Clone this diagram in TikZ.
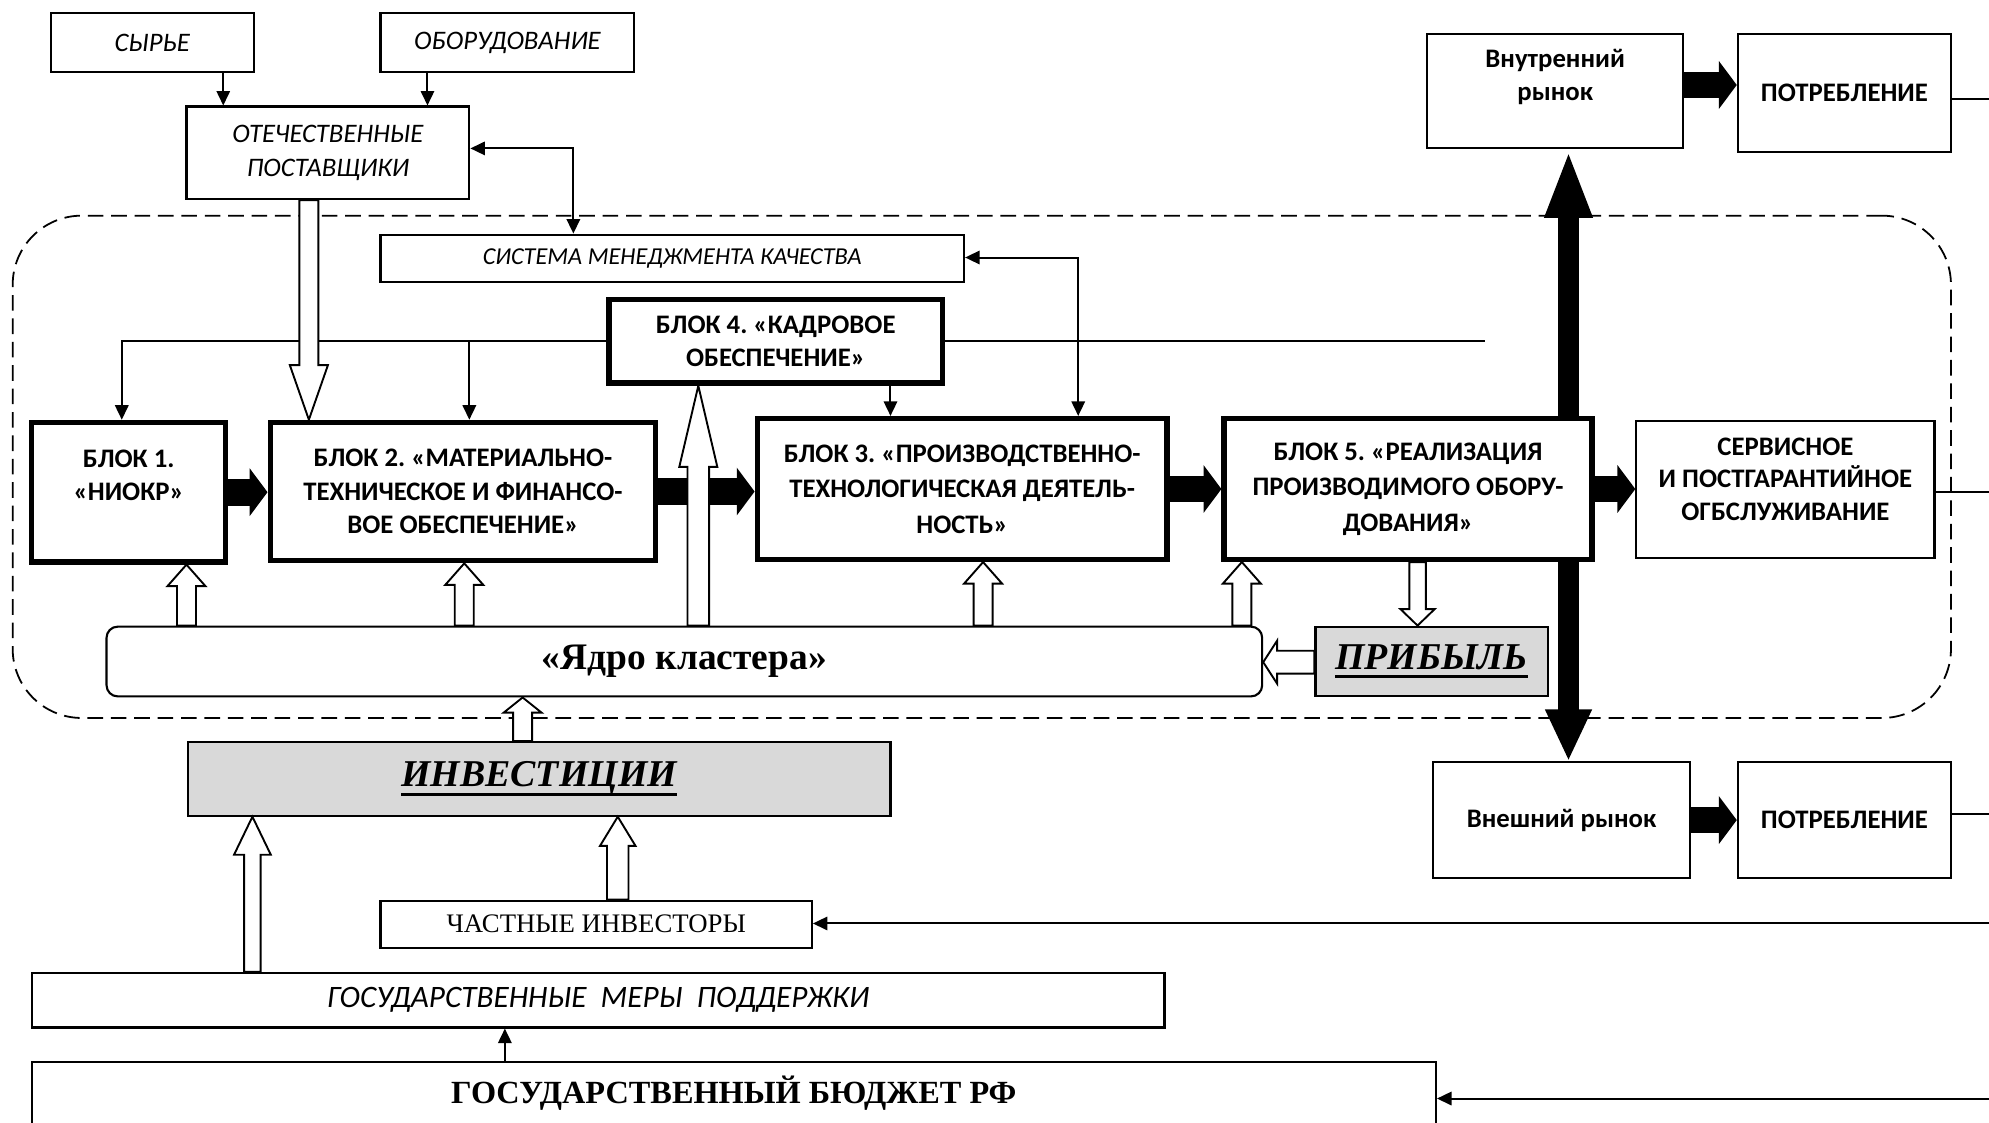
\documentclass[tikz,border=0pt]{standalone}
\usepackage{fontspec}
\setmainfont{Liberation Serif}
\newfontfamily\calib{Carlito}
\usetikzlibrary{arrows.meta,calc}
\definecolor{pgray}{HTML}{D9D9D9}
\frenchspacing
\newcommand\thul[1]{\setbox0\hbox{#1}\rlap{\rule[-4pt]{\wd0}{1.4pt}}\box0}
\newcommand\pbox[7]{\node[#6,minimum width={(#4-#2)*0.02cm},minimum height={(#5-#3)*0.02cm}] (#1) at ({(#2+#4)/2},{(#3+#5)/2}) {#7};}
\newcommand\hollowv[5]{\draw[hollow] ($(#1)+(-#3,0)$) -- ($(#2)+(-#3,#5)$) -- ($(#2)+(-#4,#5)$) -- (#2) -- ($(#2)+(#4,#5)$) -- ($(#2)+(#3,#5)$) -- ($(#1)+(#3,0)$) -- cycle;}
\newcommand\hollowh[5]{\draw[hollow] ($(#1)+(0,-#3)$) -- ($(#2)+(#5,-#3)$) -- ($(#2)+(#5,-#4)$) -- (#2) -- ($(#2)+(#5,#4)$) -- ($(#2)+(#5,#3)$) -- ($(#1)+(0,#3)$) -- cycle;}
\tikzset{
 tbox/.style={draw, line width=0.95pt, fill=white, inner sep=0pt, align=center},
 kbox/.style={draw, line width=2.4pt, fill=white, inner sep=0pt, align=center, font=\calib\bfseries\fontsize{12}{16}\selectfont},
 ital/.style={font=\calib\itshape\fontsize{12}{15}\selectfont},
 boldsans/.style={font=\calib\bfseries\fontsize{12}{15}\selectfont},
 graybox/.style={tbox, fill=pgray, font=\bfseries\itshape\fontsize{17}{20}\selectfont},
 conn/.style={line width=0.9pt, -{Triangle[length=6.5pt,width=6pt]}},
 conn2/.style={line width=0.9pt, {Triangle[length=6.5pt,width=6pt]}-{Triangle[length=6.5pt,width=6pt]}},
 plain/.style={line width=0.9pt},
 blk/.style={line width=12pt, -{Triangle[length=8pt,width=21pt]}},
 bigarrow/.style={line width=9.7pt, {Triangle[length=30.7pt,width=19.3pt]}-{Triangle[length=23.3pt,width=19.3pt]}},
 hollow/.style={draw, line width=0.85pt, fill=white, line join=miter},
 cluster/.style={draw, line width=0.8pt, dash pattern=on 7pt off 3.5pt, rounded corners=31pt, inner sep=0pt},
}
\begin{document}
\begin{tikzpicture}[x=0.02cm,y=-0.02cm]
\clip (0,0) rectangle (1568,885);
\fill[white] (0,0) rectangle (1568,885);
% cluster border
\pbox{clu}{10}{170}{1538}{566}{cluster}{}
% named x / y positions
\coordinate (c1) at (452,117);
\coordinate (c2) at (850,203);
\coordinate (c3) at (96,0);
\coordinate (c4) at (370,0);
\coordinate (c5) at (702,0);
\coordinate (c6) at (1171,0);
\coordinate (c7) at (176,0);
\coordinate (c8) at (337,0);
\coordinate (c9) at (398,0);
\coordinate (cx) at (1236.5,0);
\coordinate (ya) at (0,67);
\coordinate (r1) at (1580,78);
\coordinate (r2) at (1580,388);
\coordinate (r3) at (1580,642);
\coordinate (r4) at (1580,728);
\coordinate (r5) at (1580,866);
\coordinate (h0) at (243.5,0);
\coordinate (h1) at (147,0);
\coordinate (h2) at (366,0);
\coordinate (h3) at (775,0);
\coordinate (h4) at (979,0);
\coordinate (h5) at (550.5,0);
\coordinate (h6) at (1117.5,0);
\coordinate (h7) at (412,0);
\coordinate (h8) at (199,0);
\coordinate (h9) at (487,0);
\coordinate (hy) at (0,522);
% boxes at top right (needed for the big arrow)
\pbox{vnutr}{1125}{27}{1327}{117}{tbox,boldsans}{Внутренний\\рынок\\\mbox{}}
\pbox{vnesh}{1130}{601}{1332}{692}{tbox,boldsans}{Внешний рынок}
\draw[bigarrow] (vnutr.south -| cx) -- (vnesh.north -| cx);
% boxes
\pbox{syr}{40}{10}{200}{57}{tbox,ital}{СЫРЬЕ}
\pbox{obor}{300}{10}{500}{57}{tbox,ital}{ОБОРУДОВАНИЕ}
\pbox{otech}{147}{84}{370}{157}{tbox,ital}{ОТЕЧЕСТВЕННЫЕ\\ПОСТАВЩИКИ}
\pbox{smk}{300}{185}{760}{222}{tbox,font=\calib\itshape\fontsize{10.9}{12}\selectfont}{СИСТЕМА МЕНЕДЖМЕНТА КАЧЕСТВА}
\pbox{b4}{480}{236}{743}{302}{kbox,font=\calib\bfseries\fontsize{12}{15}\selectfont}{БЛОК 4. «КАДРОВОЕ\\ОБЕСПЕЧЕНИЕ»}
\pbox{b1}{25}{333}{178}{443}{kbox,font=\calib\bfseries\fontsize{12}{15}\selectfont}{БЛОК 1.\\«НИОКР»\\\mbox{}}
\pbox{b2}{213}{333}{517}{442}{kbox,font=\calib\bfseries\fontsize{12}{15}\selectfont}{БЛОК 2. «МАТЕРИАЛЬНО-\\ТЕХНИЧЕСКОЕ И ФИНАНСО-\\ВОЕ ОБЕСПЕЧЕНИЕ»}
\pbox{b3}{597}{330}{920}{441}{kbox}{БЛОК 3. «ПРОИЗВОДСТВЕННО-\\ТЕХНОЛОГИЧЕСКАЯ ДЕЯТЕЛЬ-\\НОСТЬ»}
\pbox{b5}{965}{330}{1255}{441}{kbox}{БЛОК 5. «РЕАЛИЗАЦИЯ\\ПРОИЗВОДИМОГО ОБОРУ-\\ДОВАНИЯ»}
\pbox{serv}{1290}{332}{1525}{440}{tbox,font=\calib\bfseries\fontsize{12}{14.5}\selectfont}{СЕРВИСНОЕ\\И ПОСТГАРАНТИЙНОЕ\\ОГБСЛУЖИВАНИЕ\\[-5pt]\mbox{}}
\pbox{potr1}{1370}{27}{1538}{120}{tbox,boldsans}{ПОТРЕБЛЕНИЕ}
\pbox{potr2}{1370}{601}{1538}{692}{tbox,boldsans}{ПОТРЕБЛЕНИЕ}
\pbox{yadro}{84}{494}{995}{549}{tbox,rounded corners=5pt,font=\bfseries\fontsize{16.8}{18}\selectfont}{«Ядро кластера»}
\pbox{prib}{1037}{494}{1220}{549}{graybox}{\thul{ПРИБЫЛЬ}}
\pbox{invest}{148}{585}{702}{643}{graybox}{\thul{ИНВЕСТИЦИИ}}
\pbox{chast}{300}{710}{640}{747}{tbox,font=\fontsize{12}{13}\selectfont}{ЧАСТНЫЕ ИНВЕСТОРЫ}
\pbox{gosm}{25}{767}{918}{810}{tbox,font=\calib\itshape\fontsize{14}{16}\selectfont}{ГОСУДАРСТВЕННЫЕ\ \ МЕРЫ\ \ ПОДДЕРЖКИ}
\pbox{budget}{25}{837}{1132}{887}{tbox,font=\bfseries\fontsize{14.5}{16}\selectfont}{ГОСУДАРСТВЕННЫЙ БЮДЖЕТ РФ}
% thin connectors
\draw[conn] (syr.south -| c7) -- (c7 |- otech.north);
\draw[conn] (obor.south -| c8) -- (c8 |- otech.north);
\draw[conn2] (c1 -| otech.east) -- (c1) -- (c1 |- smk.north);
\draw[conn2] (c2 -| smk.east) -- (c2) -- (c2 |- b3.north);
\draw[conn] (b4.west) -- (b4.west -| c3) -- (c3 |- b1.north);
\draw[conn] (b4.west -| c4) -- (c4 |- b2.north);
\draw[conn] (b4.south -| c5) -- (c5 |- b3.north);
\draw[plain] (b4.east) -- (b4.east -| c6);
\draw[conn] (budget.north -| c9) -- (c9 |- gosm.south);
\draw[plain] (r1 -| potr1.east) -- (r1);
\draw[plain] (r2 -| serv.east) -- (r2);
\draw[plain] (r3 -| potr2.east) -- (r3);
\draw[conn] (r4) -- (r4 -| chast.east);
\draw[conn] (r5) -- (r5 -| budget.east);
% black block arrows
\draw[blk] (b1.east) -- (b1.east -| b2.west);
\draw[blk] (b2.east) -- (b2.east -| b3.west);
\draw[blk] (b3.east) -- (b5.west);
\draw[blk] (b5.east) -- (b5.east -| serv.west);
\draw[blk] (vnutr.east |- ya) -- (potr1.west |- ya);
\draw[blk] (vnesh.east) -- (vnesh.east -| potr2.west);
% hollow arrows
\hollowv{otech.south -| h0}{b2.north -| h0}{7.5}{15}{-43}
\hollowv{yadro.north -| h1}{b1.south -| h1}{7.5}{15}{17}
\hollowv{yadro.north -| h2}{b2.south -| h2}{7.5}{15}{17}
\hollowv{yadro.north -| h3}{b3.south -| h3}{7.5}{15}{17}
\hollowv{yadro.north -| h4}{b5.south -| h4}{7.5}{15}{17}
\hollowv{yadro.north -| h5}{b4.south -| h5}{8.5}{15}{64}
\hollowv{b5.south -| h6}{prib.north -| h6}{6.5}{13.5}{-13}
\hollowh{prib.west |- hy}{yadro.east |- hy}{9}{17}{11}
\hollowv{invest.north -| h7}{yadro.south -| h7}{7.5}{15}{12}
\hollowv{gosm.north -| h8}{invest.south -| h8}{6.5}{14.5}{30}
\hollowv{chast.north -| h9}{invest.south -| h9}{8.5}{14}{23}
\end{tikzpicture}
\end{document}
